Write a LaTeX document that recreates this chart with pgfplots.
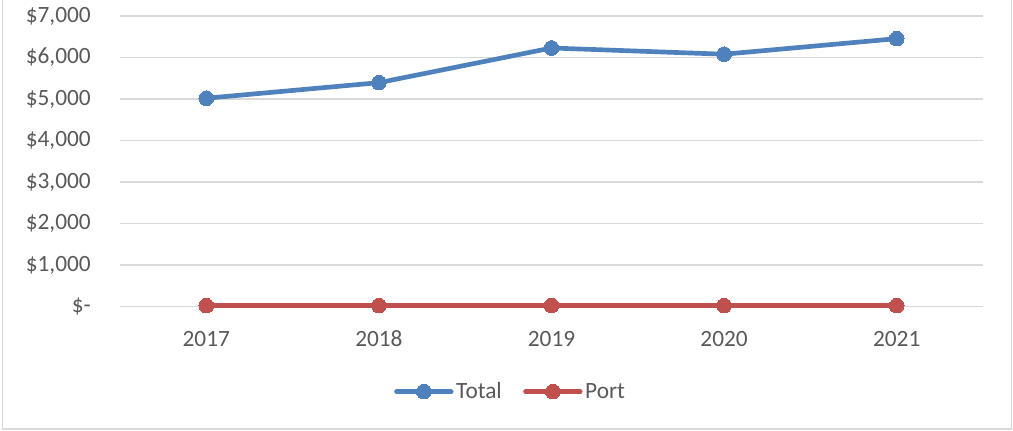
\documentclass[border=0pt]{standalone}
\usepackage{pgfplots}
\pgfplotsset{compat=1.18}
\usepackage{fontspec}
\setmainfont{Carlito}
\definecolor{txt}{HTML}{595959}
\definecolor{grd}{HTML}{D9D9D9}
\definecolor{cblue}{HTML}{4F81BD}
\definecolor{cred}{HTML}{C0504D}
\begin{document}
\begin{tikzpicture}
\useasboundingbox (0,0) rectangle (759.75pt,322.5pt);
\draw[grd, line width=1pt] (1.9pt,330pt) -- (1.9pt,0.75pt) -- (758.6pt,0.75pt) -- (758.6pt,330pt);
\begin{axis}[
  at={(90pt,92.5pt)}, anchor=south west,
  scale only axis,
  width=647.25pt, height=218pt,
  xmin=-0.5, xmax=4.5,
  ymin=0, ymax=7000,
  xtick={0,1,2,3,4},
  xticklabels={2017,2018,2019,2020,2021},
  ytick={0,1000,2000,3000,4000,5000,6000,7000},
  yticklabels={{\$-},{\$1,000},{\$2,000},{\$3,000},{\$4,000},{\$5,000},{\$6,000},{\$7,000}},
  axis line style={draw=none},
  major tick length=0pt,
  ymajorgrids,
  grid style={grd, line width=1.2pt},
  tick label style={font=\fontsize{17.5}{21}\selectfont, text=txt},
  yticklabel style={inner sep=0pt, anchor=east, xshift=-21.75pt},
  xticklabel style={inner sep=0pt, anchor=north, yshift=-18pt},
  /pgf/number format/assume math mode=true,
  legend columns=2,
  legend style={at={(0.453,-0.2924)}, anchor=center, draw=none, fill=none,
    font=\fontsize{17.5}{21}\selectfont, text=txt,
    /tikz/every even column/.append style={column sep=14pt}},
  legend cell align=left,
  legend image code/.code={
    \draw[#1, mark=none, line cap=round] (0pt,0pt) -- (41pt,0pt);
    \draw[#1, line width=0pt] plot coordinates {(20.5pt,0pt)};
  },
  clip=false,
]
\addplot[cblue, line width=3.5pt, mark=*, mark size=5.5pt, mark options={solid, fill=cblue, draw=cblue, line width=0pt}]
  coordinates {(0,5020) (1,5395) (2,6230) (3,6080) (4,6455)};
\addlegendentry{Total}
\addplot[cred, line width=3.5pt, mark=*, mark size=5.5pt, mark options={solid, fill=cred, draw=cred, line width=0pt}]
  coordinates {(0,25) (1,25) (2,25) (3,25) (4,25)};
\addlegendentry{Port}
\end{axis}
\end{tikzpicture}
\end{document}
